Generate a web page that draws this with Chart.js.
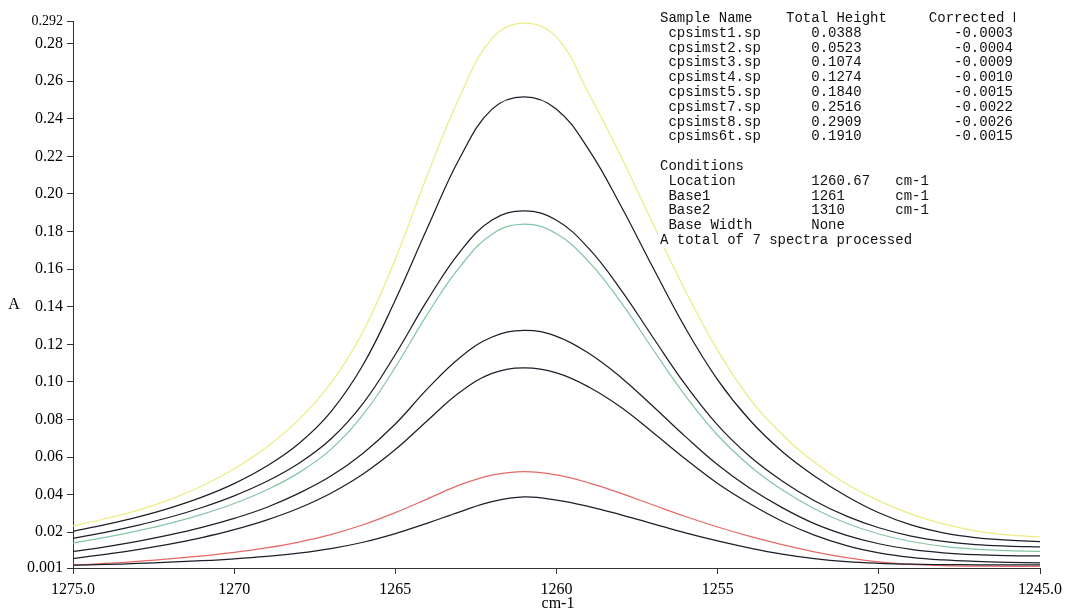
<!DOCTYPE html>
<html>
<head>
<meta charset="utf-8">
<script src="https://cdn.jsdelivr.net/npm/chart.js@4.4.1/dist/chart.umd.min.js"></script>
<style>
  html, body { margin: 0; padding: 0; background: #ffffff; }
  #wrap { width: 1068px; height: 612px; position: relative; }
</style>
</head>
<body>
<div id="wrap"><canvas id="c" width="1068" height="612"></canvas></div>
<script>
// wavenumbers (cm-1), left to right on the reversed axis
const wavenumbers = [1275,1274,1273,1272,1271,1270,1269,1268,1267,1266,1265,1264,1263,1262,1261,
                     1260,1259,1258,1257,1256,1255,1254,1253,1252,1251,1250,1249,1248,1247,1246,1245];

// absorbance series
const cpsimst8 = [0.0234,0.0272,0.0317,0.0374,0.0446,0.0538,0.0653,0.0798,0.0993,0.1268,0.1653,0.2103,0.2518,0.2828,0.2909,
                  0.2834,0.2534,0.2199,0.1839,0.1484,0.1168,0.0910,0.0720,0.0572,0.0457,0.0367,0.0297,0.0245,0.0208,0.0186,0.0175];
const cpsimst7 = [0.0205,0.0241,0.0281,0.0329,0.0387,0.0459,0.0551,0.0671,0.0841,0.1091,0.1436,0.1821,0.2191,0.2451,0.2516,
                  0.2451,0.2236,0.1936,0.1606,0.1286,0.1011,0.0796,0.0630,0.0500,0.0392,0.0304,0.0239,0.0197,0.0172,0.0158,0.0150];
const cpsims6t = [0.0168,0.0200,0.0237,0.0280,0.0332,0.0394,0.0470,0.0566,0.0696,0.0886,0.1146,0.1436,0.1691,0.1861,0.1910,
                  0.1860,0.1710,0.1490,0.1235,0.0985,0.0770,0.0603,0.0473,0.0368,0.0286,0.0224,0.0180,0.0152,0.0135,0.0127,0.0123];
const cpsimst5 = [0.0143,0.0173,0.0207,0.0247,0.0295,0.0353,0.0425,0.0516,0.0641,0.0826,0.1078,0.1362,0.1612,0.1786,0.1840,
                  0.1788,0.1640,0.1423,0.1171,0.0926,0.0716,0.0553,0.0426,0.0325,0.0248,0.0191,0.0151,0.0125,0.0110,0.0102,0.0098];
const cpsimst4 = [0.0098,0.0123,0.0152,0.0186,0.0226,0.0274,0.0332,0.0407,0.0499,0.0621,0.0776,0.0964,0.1129,0.1239,0.1274,
                  0.1242,0.1152,0.1024,0.0869,0.0709,0.0559,0.0434,0.0331,0.0246,0.0184,0.0139,0.0109,0.0091,0.0081,0.0076,0.0074];
const cpsimst3 = [0.0060,0.0083,0.0108,0.0137,0.0172,0.0214,0.0265,0.0328,0.0408,0.0510,0.0640,0.0795,0.0945,0.1045,0.1074,
                  0.1048,0.0973,0.0865,0.0730,0.0590,0.0460,0.0352,0.0259,0.0185,0.0129,0.0091,0.0067,0.0053,0.0045,0.0040,0.0037];
const cpsimst2 = [0.0025,0.0034,0.0045,0.0058,0.0074,0.0093,0.0117,0.0148,0.0188,0.0240,0.0305,0.0378,0.0452,0.0504,0.0523,
                  0.0505,0.0463,0.0407,0.0345,0.0284,0.0228,0.0178,0.0134,0.0096,0.0065,0.0042,0.0029,0.0023,0.0020,0.0019,0.0018];
const cpsimst1 = [0.0025,0.0029,0.0034,0.0041,0.0049,0.0059,0.0072,0.0089,0.0113,0.0147,0.0193,0.0249,0.0309,0.0363,0.0388,
                  0.0371,0.0337,0.0293,0.0245,0.0197,0.0154,0.0116,0.0084,0.0060,0.0044,0.0035,0.0030,0.0028,0.0027,0.0027,0.0027];

// axis ticks
const xTicks = [1275, 1270, 1265, 1260, 1255, 1250, 1245];
const yTicks = [0.001, 0.02, 0.04, 0.06, 0.08, 0.10, 0.12, 0.14, 0.16, 0.18, 0.20, 0.22, 0.24, 0.26, 0.28, 0.292];

// table text
const sampleNames = ['cpsimst1.sp','cpsimst2.sp','cpsimst3.sp','cpsimst4.sp','cpsimst5.sp','cpsimst7.sp','cpsimst8.sp','cpsims6t.sp'];
const totalHeights = ['0.0388','0.0523','0.1074','0.1274','0.1840','0.2516','0.2909','0.1910'];
const corrected = ['-0.0003','-0.0004','-0.0009','-0.0010','-0.0015','-0.0022','-0.0026','-0.0015'];

function pts(arr) { return arr.map((v, i) => ({ x: wavenumbers[i], y: v })); }

const BLACK = '#1e1e2a';
function ds(label, arr, color) {
  return { label, data: pts(arr), borderColor: color, borderWidth: 1.25, pointRadius: 0,
           fill: false, tension: 0.4 };
}

function pad(s, n) { while (s.length < n) s += ' '; return s; }

const tablePlugin = {
  id: 'tableText',
  afterDraw(chart) {
    const ctx = chart.ctx;
    ctx.save();
    // axis titles
    ctx.fillStyle = '#000';
    ctx.font = '16px "Liberation Serif"';
    ctx.textBaseline = 'middle';
    ctx.textAlign = 'center';
    ctx.fillText('A', 14, 305);
    ctx.fillText('cm-1', 558, 604);

    // monospace block
    const lines = [];
    lines.push(pad('Sample Name', 15) + pad('Total Height', 17) + 'Corrected Height');
    for (let i = 0; i < sampleNames.length; i++) {
      lines.push(pad(' ' + sampleNames[i], 18) + pad(totalHeights[i], 17) + corrected[i]);
    }
    lines.push('');
    lines.push('Conditions');
    lines.push(pad(' Location', 18) + pad('1260.67', 10) + 'cm-1');
    lines.push(pad(' Base1', 18) + pad('1261', 10) + 'cm-1');
    lines.push(pad(' Base2', 18) + pad('1310', 10) + 'cm-1');
    lines.push(pad(' Base Width', 18) + 'None');
    lines.push('A total of 7 spectra processed');

    ctx.font = '14px "Liberation Mono"';
    ctx.textAlign = 'left';
    ctx.textBaseline = 'middle';
    ctx.beginPath();
    ctx.rect(0, 0, 1015, 612);
    ctx.clip();
    for (let k = 0; k < lines.length; k++) {
      const t = lines[k];
      if (!t) continue;
      const cy = 18.3 + 14.8 * k;
      const w = ctx.measureText(t.replace(/\s+$/, '')).width;
      ctx.fillStyle = '#ffffff';
      ctx.fillRect(658, cy - 7.4, w + 4, 14.8);
      ctx.fillStyle = '#111';
      ctx.fillText(t, 660, cy);
    }
    ctx.restore();
  }
};

new Chart(document.getElementById('c'), {
  type: 'line',
  data: {
    datasets: [
      ds('cpsimst1.sp', cpsimst1, BLACK),
      ds('cpsimst3.sp', cpsimst3, BLACK),
      ds('cpsimst4.sp', cpsimst4, BLACK),
      ds('cpsims6t.sp', cpsims6t, BLACK),
      ds('cpsimst7.sp', cpsimst7, BLACK),
      ds('cpsimst2.sp', cpsimst2, '#e46a66'),
      ds('cpsimst5.sp', cpsimst5, '#86c6a6'),
      ds('cpsimst8.sp', cpsimst8, '#ecec84')
    ]
  },
  options: {
    responsive: false,
    devicePixelRatio: 1,
    animation: false,
    events: [],
    layout: { padding: { top: 21, right: 25, left: 0, bottom: 0 } },
    plugins: { legend: { display: false }, tooltip: { enabled: false } },
    scales: {
      x: {
        type: 'linear',
        reverse: true,
        min: 1245,
        max: 1275,
        afterBuildTicks: s => { s.ticks = xTicks.map(v => ({ value: v })); },
        afterFit: s => { s.height = 44; },
        grid: { display: true, drawOnChartArea: false, drawTicks: true, tickLength: 6, color: '#333' },
        border: { display: true, color: '#333', width: 1 },
        ticks: {
          autoSkip: false, maxRotation: 0, padding: 6, color: '#000',
          font: { family: 'Liberation Serif', size: 16 },
          callback: v => (v === 1275 || v === 1245) ? v.toFixed(1) : String(v)
        }
      },
      y: {
        min: 0.001,
        max: 0.292,
        afterBuildTicks: s => { s.ticks = yTicks.map(v => ({ value: v })); },
        afterFit: s => { s.width = 73; },
        grid: { display: true, drawOnChartArea: false, drawTicks: true, tickLength: 6, color: '#333' },
        border: { display: true, color: '#333', width: 1 },
        ticks: {
          autoSkip: false, padding: 4, color: '#000',
          font: ctx => ({ family: 'Liberation Serif', size: (ctx.tick && ctx.tick.value === 0.292) ? 14 : 16 }),
          callback: v => (v === 0.001 || v === 0.292) ? String(v) : v.toFixed(2)
        }
      }
    }
  },
  plugins: [tablePlugin]
});
</script>
</body>
</html>
